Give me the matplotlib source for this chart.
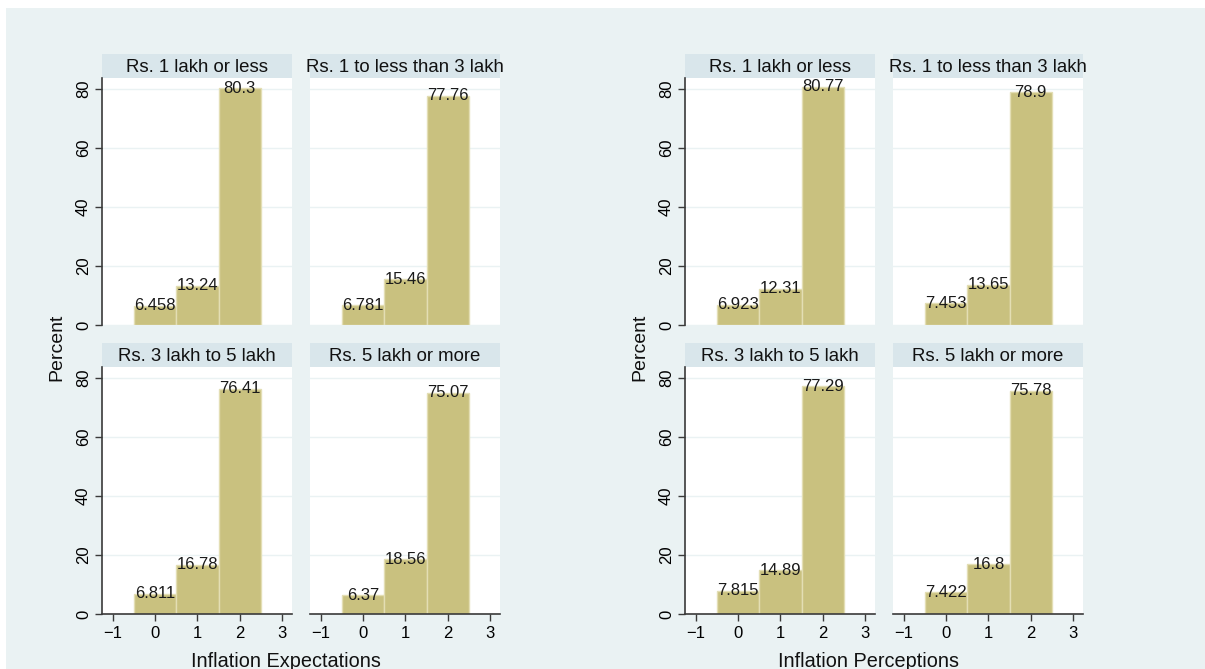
import matplotlib.pyplot as plt
from matplotlib.patches import Rectangle

plt.rcParams['font.family'] = ['Liberation Sans', 'DejaVu Sans']

# ---- data: percent of respondents in each inflation category, by income group ----
categories = [0, 1, 2]
groups = ["Rs. 1 lakh or less", "Rs. 1 to less than 3 lakh",
          "Rs. 3 lakh to 5 lakh", "Rs. 5 lakh or more"]

expect_1lakh = [6.458, 13.24, 80.3]
expect_1to3 = [6.781, 15.46, 77.76]
expect_3to5 = [6.811, 16.78, 76.41]
expect_5plus = [6.37, 18.56, 75.07]

percep_1lakh = [6.923, 12.31, 80.77]
percep_1to3 = [7.453, 13.65, 78.9]
percep_3to5 = [7.815, 14.89, 77.29]
percep_5plus = [7.422, 16.8, 75.78]

x_ticks = [-1, 0, 1, 2, 3]
y_ticks = [0, 20, 40, 60, 80]

# ---- styling (stata s2color look) ----
W, H = 1205, 669
BG = '#EAF2F3'
STRIP = '#D9E6EB'
BAR = '#C9C17F'
BAR_EDGE = '#E3DEB4'
AXC = '#3a3a3a'

fig = plt.figure(figsize=(W / 100, H / 100), dpi=100)
fig.patch.set_facecolor('white')
fig.patches.append(Rectangle((6 / W, 0), 1 - 6 / W, 1 - 8 / H,
                             transform=fig.transFigure, facecolor=BG,
                             edgecolor='none', zorder=-10))


def px_rect(x0, y0, x1, y1):
    # pixel box (top-left origin) -> figure fraction rect
    return [x0 / W, (H - y1) / H, (x1 - x0) / W, (y1 - y0) / H]


def panel(x0, y0, x1, y1, values, title, show_y, show_x):
    # title strip
    sax = fig.add_axes(px_rect(x0, y0 - 24, x1, y0))
    sax.set_facecolor(STRIP)
    sax.set_xticks([])
    sax.set_yticks([])
    for s in sax.spines.values():
        s.set_visible(False)
    sax.text(0.5, 0.45, title, ha='center', va='center', fontsize=13.4,
             color='#111111', transform=sax.transAxes, clip_on=False)

    ax = fig.add_axes(px_rect(x0, y0, x1, y1))
    ax.set_facecolor('white')
    ax.bar(categories, values, width=1.0, color=BAR, edgecolor=BAR_EDGE,
           linewidth=1.0, zorder=2)
    for c, v in zip(categories, values):
        ax.text(c, v, '%.4g' % v, ha='center', va='center', fontsize=12,
                color='#1a1a1a', zorder=3)
    ax.set_xlim(-1.26, 3.24)
    ax.set_ylim(0, 83.8)
    ax.set_yticks(y_ticks)
    ax.set_xticks(x_ticks)
    ax.grid(axis='y', color=BG, linewidth=1.0, zorder=0)
    ax.set_axisbelow(True)
    for s in ['top', 'right']:
        ax.spines[s].set_visible(False)
    ax.spines['left'].set_visible(show_y)
    ax.spines['bottom'].set_visible(show_x)
    ax.spines['left'].set_color(AXC)
    ax.spines['bottom'].set_color(AXC)
    ax.spines['left'].set_linewidth(1.2)
    ax.spines['bottom'].set_linewidth(1.2)
    ax.tick_params(axis='y', left=show_y, labelleft=show_y, length=5,
                   width=1.0, color=AXC, labelsize=12, pad=3,
                   labelrotation=90)
    for lab in ax.get_yticklabels():
        lab.set_va('center')
    ax.tick_params(axis='x', bottom=show_x, labelbottom=show_x, length=5,
                   width=1.0, color=AXC, labelsize=12, pad=4)
    return ax


col_x = [(102, 292), (310, 500)]
row_y = [(78, 325), (367, 614)]
offset = 583

blocks = [
    ([expect_1lakh, expect_1to3, expect_3to5, expect_5plus], 0,
     "Inflation Expectations"),
    ([percep_1lakh, percep_1to3, percep_3to5, percep_5plus], offset,
     "Inflation Perceptions"),
]

for series, dx, xlabel in blocks:
    for i, vals in enumerate(series):
        r, c = divmod(i, 2)
        x0, x1 = col_x[c]
        y0, y1 = row_y[r]
        panel(x0 + dx, y0, x1 + dx, y1, vals, groups[i],
              show_y=(c == 0), show_x=(r == 1))
    fig.text((286 + dx) / W, 1 - 652 / H, xlabel, ha='center', va='top',
             fontsize=14.3, color='#111111')
    fig.text((57 + dx) / W, 1 - 347 / H, "Percent", ha='center',
             va='center', rotation=90, fontsize=14, color='#111111')

fig.savefig('out.png', dpi=100, facecolor=fig.get_facecolor())
